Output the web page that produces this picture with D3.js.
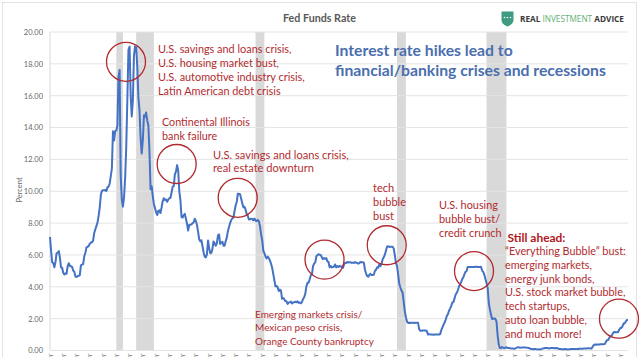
<!DOCTYPE html>
<html><head><meta charset="utf-8">
<script src="https://cdn.jsdelivr.net/npm/d3@7"></script>
<style>html,body{margin:0;padding:0;background:#fff;} svg{display:block;}</style>
</head><body>
<svg id="chart" width="640" height="357"></svg>
<script>
// ---- DATA (monthly effective Fed Funds rate, %) ----
const startYear = 1975;
const rates1975to1979 = [
 7.13,6.24,5.54,5.49,5.22,5.55,6.10,6.14,6.24,5.82,5.22,5.20,
 4.87,4.77,4.84,4.82,5.29,5.48,5.31,5.29,5.25,5.02,4.95,4.65,
 4.61,4.68,4.69,4.73,5.35,5.39,5.42,5.90,6.14,6.47,6.51,6.56,
 6.70,6.78,6.79,6.89,7.36,7.60,7.81,8.04,8.45,8.96,9.76,10.03,
 10.07,10.06,10.09,10.01,10.24,10.29,10.47,10.94,11.43,13.77,13.18,13.78];
const rates1980s = [
 13.82,14.13,17.19,17.61,10.98,9.47,9.03,9.61,10.87,12.81,15.85,18.90,
 19.08,15.93,14.70,15.72,18.52,19.10,19.04,17.82,15.87,15.08,13.31,12.37,
 13.22,14.78,14.68,14.94,14.45,14.15,12.59,10.12,10.31,9.71,9.20,8.95,
 8.68,8.51,8.77,8.80,8.63,8.98,9.37,9.56,9.45,9.48,9.34,9.47,
 9.56,9.59,9.91,10.29,10.32,11.06,11.23,11.64,11.30,9.99,9.43,8.38,
 8.35,8.50,8.58,8.27,7.97,7.53,7.88,7.90,7.92,7.99,8.05,8.27,
 8.14,7.86,7.48,6.99,6.85,6.92,6.56,6.17,5.89,5.85,6.04,6.91,
 6.43,6.10,6.13,6.37,6.85,6.73,6.58,6.73,7.22,7.29,6.69,6.77,
 6.83,6.58,6.58,6.87,7.09,7.51,7.75,8.01,8.19,8.30,8.35,8.76,
 9.12,9.36,9.85,9.84,9.81,9.53,9.24,8.99,9.02,8.84,8.55,8.45];
const rates1990s = [
 8.23,8.24,8.28,8.26,8.18,8.29,8.15,8.13,8.20,8.11,7.81,7.31,
 6.91,6.25,6.12,5.91,5.78,5.90,5.82,5.66,5.45,5.21,4.81,4.43,
 4.03,4.06,3.98,3.73,3.82,3.76,3.25,3.30,3.22,3.10,3.09,2.92,
 3.02,3.03,3.07,2.96,3.00,3.04,3.06,3.03,3.09,2.99,3.02,2.96,
 3.05,3.25,3.34,3.56,4.01,4.25,4.26,4.47,4.73,4.76,5.29,5.45,
 5.53,5.92,5.98,6.05,6.01,6.00,5.85,5.74,5.80,5.76,5.80,5.60,
 5.56,5.22,5.31,5.22,5.24,5.27,5.40,5.22,5.30,5.24,5.31,5.29,
 5.25,5.19,5.39,5.51,5.50,5.56,5.52,5.54,5.54,5.50,5.52,5.50,
 5.56,5.51,5.49,5.45,5.49,5.56,5.54,5.55,5.51,5.07,4.83,4.68,
 4.63,4.76,4.81,4.74,4.74,4.76,4.99,5.07,5.22,5.20,5.42,5.30];
const rates2000s = [
 5.45,5.73,5.85,6.02,6.27,6.53,6.54,6.50,6.52,6.51,6.51,6.40,
 5.98,5.49,5.31,4.80,4.21,3.97,3.77,3.65,3.07,2.49,2.09,1.82,
 1.73,1.74,1.73,1.75,1.75,1.75,1.73,1.74,1.75,1.75,1.34,1.24,
 1.24,1.26,1.25,1.26,1.26,1.22,1.01,1.03,1.01,1.01,1.00,0.98,
 1.00,1.01,1.00,1.00,1.00,1.03,1.26,1.43,1.61,1.76,1.93,2.16,
 2.28,2.50,2.63,2.79,3.00,3.04,3.26,3.50,3.62,3.78,4.00,4.16,
 4.29,4.49,4.59,4.79,4.94,4.99,5.24,5.25,5.25,5.25,5.25,5.24,
 5.25,5.26,5.26,5.25,5.25,5.25,5.26,5.02,4.94,4.76,4.49,4.24,
 3.94,2.98,2.61,2.28,1.98,2.00,2.01,2.00,1.81,0.97,0.39,0.16,
 0.15,0.22,0.18,0.15,0.18,0.21,0.16,0.16,0.15,0.12,0.12,0.12];
const rates2010to2018 = [
 0.11,0.13,0.16,0.20,0.20,0.18,0.18,0.19,0.19,0.19,0.19,0.18,
 0.17,0.16,0.14,0.10,0.09,0.09,0.07,0.10,0.08,0.07,0.08,0.07,
 0.08,0.10,0.13,0.14,0.16,0.16,0.16,0.13,0.14,0.16,0.16,0.16,
 0.14,0.15,0.14,0.15,0.11,0.09,0.09,0.08,0.08,0.09,0.08,0.09,
 0.07,0.07,0.08,0.09,0.09,0.10,0.09,0.09,0.09,0.09,0.09,0.12,
 0.11,0.11,0.11,0.12,0.12,0.13,0.13,0.14,0.14,0.12,0.12,0.24,
 0.34,0.38,0.36,0.37,0.37,0.38,0.39,0.40,0.40,0.40,0.41,0.54,
 0.65,0.66,0.79,0.90,0.91,1.04,1.15,1.16,1.15,1.15,1.16,1.30,
 1.41,1.42,1.51,1.69,1.70,1.82,1.91,1.91];

const recessionStarts = ["1980-01","1981-07","1990-07","2001-03","2007-12"];
const recessionEnds   = ["1980-07","1982-11","1991-03","2001-11","2009-06"];

const yTicks = [0,2,4,6,8,10,12,14,16,18,20];
const monthNames = ["Jan","Feb","Mar","Apr","May","Jun","Jul","Aug","Sep","Oct","Nov","Dec"];

// highlighted circles (year as decimal, rate)
const circleYears  = [1980.73, 1984.55, 1989.15, 1995.70, 2000.39, 2006.97, 2017.90];
const circleValues = [18.13, 11.71, 9.59, 5.71, 6.61, 4.99, 2.00];

const titleText = "Fed Funds Rate";
const yAxisTitle = "Percent";
const headline = ["Interest rate hikes lead to", "financial/banking crises and recessions"];
const note1 = ["U.S. savings and loans crisis,","U.S. housing market bust,","U.S. automotive industry crisis,","Latin American debt crisis"];
const note2 = ["Continental Illinois","bank failure"];
const note3 = ["U.S. savings and loans crisis,","real estate downturn"];
const note4 = ["Emerging markets crisis/","Mexican peso crisis,","Orange County bankruptcy"];
const note5 = ["tech","bubble","bust"];
const note6 = ["U.S. housing","bubble bust/","credit crunch"];
const note7Head = "Still ahead:";
const note7 = ["\u201CEverything Bubble\u201D bust:","emerging markets,","energy junk bonds,","U.S. stock market bubble,","tech startups,","auto loan bubble,","and much more!"];

// ---- BUILD ----
const allRates = [].concat(rates1975to1979, rates1980s, rates1990s, rates2000s, rates2010to2018);
const series = allRates.map((v,i)=>({date:new Date(startYear, i, 1), value:v}));
const parseYM = d3.timeParse("%Y-%m");
function yearToDate(y){ const yr=Math.floor(y); const a=new Date(yr,0,1), b=new Date(yr+1,0,1); return new Date(+a + (y-yr)*(b-a)); }

const svg = d3.select("#chart");
const L=50, R=628, T=32, B=350.5;
const x = d3.scaleTime().domain([series[0].date, series[series.length-1].date]).range([L,R]);
const y = d3.scaleLinear().domain([0,20]).range([B,T]);

svg.append("rect").attr("x",2.5).attr("y",2.5).attr("width",634).attr("height",370)
  .attr("fill","#fff").attr("stroke","#e2e2e2");

// recession bands
svg.append("g").selectAll("rect").data(recessionStarts.map((s,i)=>({s:parseYM(s),e:parseYM(recessionEnds[i])})))
  .join("rect").attr("x",d=>x(d.s)).attr("width",d=>x(d.e)-x(d.s))
  .attr("y",T).attr("height",B-T).attr("fill","#d9d9d9");

// gridlines
svg.append("g").selectAll("line").data(yTicks).join("line")
  .attr("x1",L).attr("x2",R).attr("y1",d=>y(d)).attr("y2",d=>y(d))
  .attr("stroke","#e4e4e4").attr("stroke-width",1);
svg.append("line").attr("x1",L).attr("x2",L).attr("y1",T).attr("y2",B).attr("stroke","#d9d9d9");

// y axis
const yAxis = d3.axisLeft(y).tickValues(yTicks).tickFormat(d3.format(".2f")).tickSize(0).tickPadding(7);
const gy = svg.append("g").attr("transform",`translate(${L},0)`).call(yAxis);
gy.select(".domain").remove();
gy.selectAll("text").attr("font-family","Lato, 'Open Sans', sans-serif").attr("font-size",7.5).attr("fill","#666");

svg.append("text").attr("transform","translate(19,190) rotate(-90)").attr("text-anchor","middle")
  .attr("dominant-baseline","central")
  .attr("font-family","Lato, sans-serif").attr("font-size",7.5).attr("fill","#666").text(yAxisTitle);

// x axis (yearly), labels mostly cut off at the bottom
const xTicks = d3.range(startYear, 2019).map(yr=>new Date(yr,0,1));
const xAxis = d3.axisBottom(x).tickValues(xTicks).tickSize(0).tickPadding(0)
  .tickFormat(d=>monthNames[d.getMonth()]+"-"+d3.timeFormat("%y")(d));
const gx = svg.append("g").attr("transform",`translate(0,${B})`).call(xAxis);
gx.select(".domain").remove();
gx.selectAll("text").attr("font-family","Lato, sans-serif").attr("font-size",6.5).attr("fill","#777")
  .attr("text-anchor","start").attr("dy",0).attr("transform","translate(-2,3) rotate(90)");

// line
svg.append("path").datum(series)
  .attr("d", d3.line().x(d=>x(d.date)).y(d=>y(d.value)))
  .attr("fill","none").attr("stroke","#4472c4").attr("stroke-width",2).attr("stroke-linejoin","round");

// circles
svg.append("g").selectAll("circle").data(circleYears.map((yr,i)=>({d:yearToDate(yr),v:circleValues[i]})))
  .join("circle").attr("cx",d=>x(d.d)).attr("cy",d=>y(d.v)).attr("r",19.5)
  .attr("fill","none").attr("stroke","#b02a2e").attr("stroke-width",1.3);

// text helpers
function block(lines, px, py, lh, targetW, opts={}){
  const g = svg.append("g");
  const ts = lines.map((t,i)=>g.append("text").attr("x",px).attr("y",py+i*lh)
     .attr("dominant-baseline","central")
     .attr("font-family",opts.family||"Lato, sans-serif")
     .attr("font-weight",opts.weight||"normal")
     .attr("font-size",10).attr("fill",opts.color||"#b22b2f").text(t));
  const w = d3.max(ts, t=>t.node().getComputedTextLength());
  const fs = 10*targetW/w;
  ts.forEach(t=>t.attr("font-size",fs));
  return fs;
}

// title
block([titleText], 283, 17.5, 0, 73, {weight:"bold", color:"#595959"});
// headline
block(headline, 335, 49.5, 19.7, 271, {weight:"bold", color:"#4a6fae"});
// notes
const fs1 = block(note1, 158, 48.3, 14, 147);
block(note2, 162, 121, 14, 88);
block(note3, 213, 154.3, 13.5, 136);
block(note4, 255, 313.7, 13.7, 119);
block(note5, 373, 187.7, 13.8, 33);
block(note6, 439, 204.3, 13.9, 62.7);
block([note7Head], 507.5, 237, 0, 58, {weight:"bold", color:"#b0161c"});
block(note7, 505, 250.5, 13.75, 121);

// logo
const lg = svg.append("g");
lg.append("path").attr("d","M501.5,11.5 L513.5,11.5 L513.5,20 Q513.5,24 507.5,26.5 Q501.5,24 501.5,20 Z").attr("fill","#3f9a82");
lg.selectAll("circle").data([-3,0,3]).join("circle").attr("cx",d=>507.5+d).attr("cy",17.5).attr("r",0.8).attr("fill","#fff");
const lt = lg.append("text").attr("x",520).attr("y",17.8).attr("dominant-baseline","central")
  .attr("font-family","'Open Sans', sans-serif").attr("font-weight","bold").attr("font-size",8);
lt.append("tspan").attr("fill","#3a3a3a").text("REAL ");
lt.append("tspan").attr("fill","#62ad74").attr("font-weight","normal").text("INVESTMENT ");
lt.append("tspan").attr("fill","#3a3a3a").text("ADVICE");
const lw = lt.node().getComputedTextLength();
lt.attr("font-size", 8*104/lw);
</script></body></html>
